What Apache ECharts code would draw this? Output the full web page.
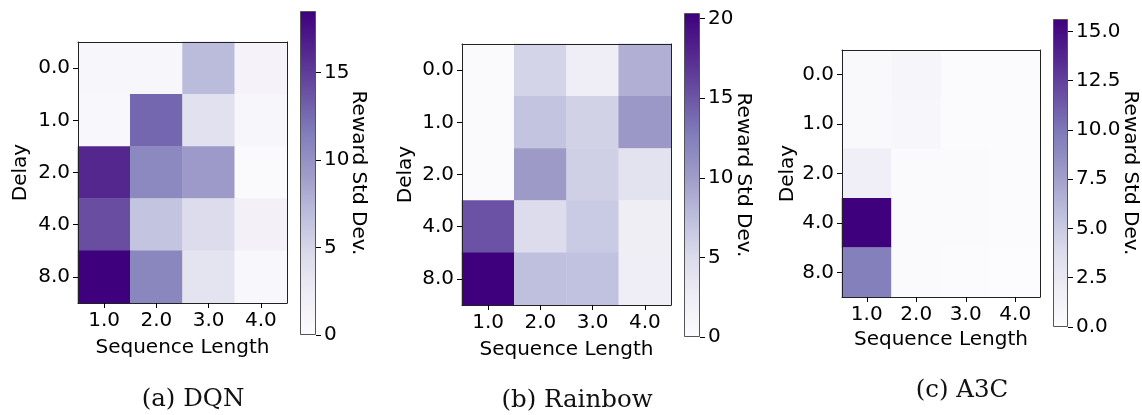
<!DOCTYPE html>
<html lang="en">
<head>
<meta charset="UTF-8">
<title>Reward Std Dev heatmaps</title>
<style>
    html, body { margin: 0; padding: 0; background: #fff; }
    #main { width: 1142px; height: 415px; }
</style>
</head>
<body>
<div id="main"></div>
<script src="https://cdn.jsdelivr.net/npm/echarts@6/dist/echarts.min.js"></script>
<script>
    var seqLengths = ['1.0', '2.0', '3.0', '4.0'];
    var delays = ['0.0', '1.0', '2.0', '4.0', '8.0'];

    // rows = delay, columns = sequence length
    var dqnStd = [
        [0.9, 0.9, 7.0, 1.3],
        [0.7, 12.7, 3.8, 0.9],
        [16.2, 10.6, 9.3, 0.4],
        [14.1, 6.4, 4.4, 1.6],
        [18.5, 10.8, 3.5, 0.7]
    ];
    var rainbowStd = [
        [0.4, 5.6, 2.6, 8.6],
        [0.4, 7.0, 5.8, 10.4],
        [0.3, 10.2, 6.0, 4.0],
        [15.2, 4.8, 6.5, 2.4],
        [20.35, 7.4, 7.2, 2.6]
    ];
    var a3cStd = [
        [0.4, 0.9, 0.15, 0.1],
        [0.4, 0.7, 0.15, 0.1],
        [1.8, 0.3, 0.25, 0.1],
        [15.63, 0.3, 0.3, 0.1],
        [9.6, 0.25, 0.1, 0.05]
    ];

    var captions = ['(a) DQN', '(b) Rainbow', '(c) A3C'];
    var cbarMax = [18.5, 20.35, 15.63];
    var cbarTicks = [
        [0, 5, 10, 15],
        [0, 5, 10, 15, 20],
        [0, 2.5, 5, 7.5, 10, 12.5, 15]
    ];

    // matplotlib "Purples"
    var purples = ['#fcfbfd', '#efedf5', '#dadaeb', '#bcbddc', '#9e9ac8', '#807dba', '#6a51a3', '#54278f', '#3f007d'];

    var font = 'DejaVu Sans';
    var txt = {color: '#000', fontFamily: font, fontSize: 20};

    var panels = [
        {data: dqnStd, map: {left: 78, top: 42, width: 209, height: 261}, bar: {left: 300, top: 11, width: 16, height: 324},
            cap: [188, 382], nameGapX: 35, nameGapY: 47, cbGap: 32, fmt: function (v) { return String(v); }},
        {data: rainbowStd, map: {left: 462, top: 44, width: 209, height: 261}, bar: {left: 684, top: 13, width: 16, height: 324},
            cap: [572, 383], nameGapX: 35, nameGapY: 46, cbGap: 33, fmt: function (v) { return String(v); }},
        {data: a3cStd, map: {left: 842, top: 50, width: 198, height: 247}, bar: {left: 1053, top: 19, width: 15, height: 308},
            cap: [957, 373], nameGapX: 33, nameGapY: 44, cbGap: 52, fmt: function (v) { return v.toFixed(1); }}
    ];

    var option = {
        animation: false,
        backgroundColor: '#fff',
        title: [],
        grid: [],
        xAxis: [],
        yAxis: [],
        visualMap: [],
        series: []
    };

    var tick = {show: true, length: 5, lineStyle: {color: '#000', width: 1}};
    var line = {show: true, lineStyle: {color: '#222', width: 1}};

    panels.forEach(function (p, k) {
        var g = option.grid.length;
        option.grid.push(p.map);
        option.grid.push(p.bar);

        var xa = option.xAxis.length;
        var ya = option.yAxis.length;

        // heatmap axes
        option.xAxis.push({
            type: 'category', gridIndex: g, data: seqLengths, position: 'bottom', z: 10,
            axisLine: line, axisTick: Object.assign({alignWithLabel: true}, tick),
            axisLabel: Object.assign({margin: 8}, txt),
            name: 'Sequence Length', nameLocation: 'middle', nameGap: p.nameGapX, nameTextStyle: txt,
            splitLine: {show: false}
        });
        option.yAxis.push({
            type: 'category', gridIndex: g, data: delays, inverse: true, position: 'left', z: 10,
            axisLine: line, axisTick: Object.assign({alignWithLabel: true}, tick),
            axisLabel: Object.assign({margin: 8}, txt),
            name: 'Delay', nameLocation: 'middle', nameGap: p.nameGapY, nameTextStyle: txt,
            splitLine: {show: false}
        });
        // frame on the other two sides
        option.xAxis.push({
            type: 'category', gridIndex: g, data: seqLengths, position: 'top', z: 10,
            axisLine: line, axisTick: {show: false}, axisLabel: {show: false}
        });
        option.yAxis.push({
            type: 'category', gridIndex: g, data: delays, inverse: true, position: 'right', z: 10,
            axisLine: line, axisTick: {show: false}, axisLabel: {show: false}
        });

        // colorbar axes
        option.xAxis.push({
            type: 'category', gridIndex: g + 1, data: ['cb'], show: false
        });
        option.yAxis.push({
            type: 'value', gridIndex: g + 1, min: 0, max: cbarMax[k], position: 'right',
            axisLine: {show: false},
            axisTick: Object.assign({customValues: cbarTicks[k]}, tick),
            axisLabel: Object.assign({customValues: cbarTicks[k], margin: 8, formatter: p.fmt}, txt),
            splitLine: {show: false},
            name: 'Reward Std Dev.', nameLocation: 'middle', nameRotate: -90, nameGap: p.cbGap,
            nameMoveOverlap: false, nameTextStyle: txt
        });

        var cells = [];
        p.data.forEach(function (row, i) {
            row.forEach(function (v, j) {
                cells.push([j, i, v]);
            });
        });

        var s = option.series.length;
        option.series.push({
            type: 'heatmap', xAxisIndex: xa, yAxisIndex: ya, data: cells,
            itemStyle: {borderWidth: 0}, emphasis: {disabled: true}
        });
        option.visualMap.push({
            type: 'continuous', show: false, seriesIndex: s, dimension: 2,
            min: 0, max: cbarMax[k], inRange: {color: purples}
        });

        var stops = purples.map(function (c, i) {
            return {offset: 1 - i / (purples.length - 1), color: c};
        }).reverse();
        option.series.push({
            type: 'bar', xAxisIndex: xa + 2, yAxisIndex: ya + 2, data: [cbarMax[k]],
            barWidth: '100%', silent: true,
            itemStyle: {
                color: {type: 'linear', x: 0, y: 0, x2: 0, y2: 1, colorStops: stops},
                borderColor: '#555', borderWidth: 1
            }
        });

        option.title.push({
            text: captions[k], left: p.cap[0], top: p.cap[1], textAlign: 'center',
            textStyle: {fontFamily: 'DejaVu Serif', fontWeight: 'normal', fontSize: 24.5, color: '#111'}
        });
    });

    var myChart = echarts.init(document.getElementById('main'));
    myChart.setOption(option);
</script>
</body>
</html>
